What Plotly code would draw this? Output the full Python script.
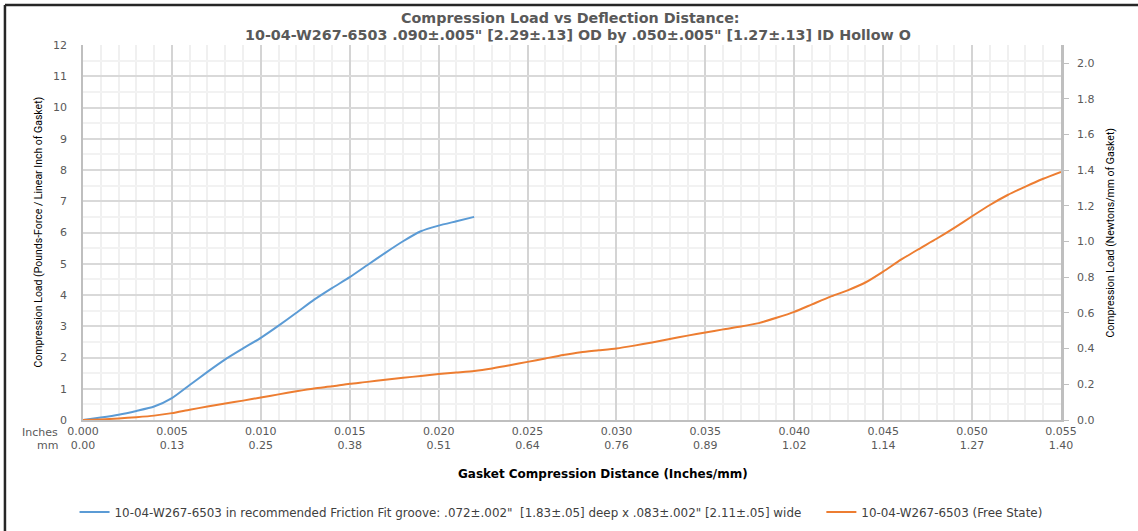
import plotly.graph_objects as go

# Deflection (inches) and compression load (lbf per linear inch of gasket)
groove_defl = [0.000, 0.001, 0.002, 0.003, 0.004, 0.005, 0.006, 0.007, 0.008, 0.009,
               0.010, 0.011, 0.012, 0.013, 0.014, 0.015, 0.016, 0.017, 0.018, 0.019,
               0.020, 0.021, 0.022]
groove_load = [0.00, 0.08, 0.17, 0.29, 0.43, 0.70, 1.12, 1.54, 1.94, 2.29,
               2.63, 3.02, 3.43, 3.85, 4.22, 4.57, 4.96, 5.35, 5.72, 6.04,
               6.22, 6.36, 6.50]

free_defl = [0.000, 0.001, 0.002, 0.003, 0.004, 0.005, 0.006, 0.007, 0.008, 0.009,
             0.010, 0.011, 0.012, 0.013, 0.014, 0.015, 0.016, 0.017, 0.018, 0.019,
             0.020, 0.021, 0.022, 0.023, 0.024, 0.025, 0.026, 0.027, 0.028, 0.029,
             0.030, 0.031, 0.032, 0.033, 0.034, 0.035, 0.036, 0.037, 0.038, 0.039,
             0.040, 0.041, 0.042, 0.043, 0.044, 0.045, 0.046, 0.047, 0.048, 0.049,
             0.050, 0.051, 0.052, 0.053, 0.054, 0.055]
free_load = [0.00, 0.02, 0.05, 0.09, 0.14, 0.22, 0.33, 0.43, 0.53, 0.62,
             0.72, 0.82, 0.92, 1.01, 1.08, 1.16, 1.22, 1.29, 1.35, 1.41,
             1.47, 1.52, 1.57, 1.65, 1.75, 1.86, 1.97, 2.08, 2.17, 2.23,
             2.29, 2.38, 2.48, 2.59, 2.70, 2.80, 2.90, 2.99, 3.10, 3.27,
             3.46, 3.70, 3.94, 4.15, 4.40, 4.75, 5.13, 5.47, 5.80, 6.15,
             6.52, 6.88, 7.20, 7.47, 7.72, 7.94]

x_tick_vals = [0.000, 0.005, 0.010, 0.015, 0.020, 0.025, 0.030, 0.035, 0.040, 0.045, 0.050, 0.055]
x_tick_in = ["0.000", "0.005", "0.010", "0.015", "0.020", "0.025", "0.030", "0.035",
             "0.040", "0.045", "0.050", "0.055"]
x_tick_mm = ["0.00", "0.13", "0.25", "0.38", "0.51", "0.64", "0.76", "0.89",
             "1.02", "1.14", "1.27", "1.40"]
y2_tick_vals = [0.0, 0.2, 0.4, 0.6, 0.8, 1.0, 1.2, 1.4, 1.6, 1.8, 2.0]

LBF_IN_TO_N_MM = 4.448222 / 25.4
Y_MAX = 12

title_line1 = "Compression Load vs Deflection Distance:"
title_line2 = '10-04-W267-6503 .090±.005" [2.29±.13] OD by .050±.005" [1.27±.13] ID Hollow O'
groove_name = ('10-04-W267-6503 in recommended Friction Fit groove: .072±.002"&nbsp; '
               '[1.83±.05] deep x .083±.002" [2.11±.05] wide')
free_name = "10-04-W267-6503 (Free State)"
LEGEND_PAD = "&nbsp;" * 4  # extra room between the two legend entries

TICK_FONT = dict(family="DejaVu Sans", size=11, color="#595959")
NARROW = "Liberation Sans Narrow, Arial Narrow, Roboto, sans-serif"
TITLE_FONT = dict(family="DejaVu Sans", size=14.3, color="#595959", weight="bold")

fig = go.Figure()
fig.add_trace(go.Scatter(x=groove_defl, y=groove_load, name=groove_name + LEGEND_PAD,
                         mode="lines",
                         line=dict(color="#5b9bd5", width=2, shape="spline", smoothing=0.6)))
fig.add_trace(go.Scatter(x=free_defl, y=free_load, name=free_name, mode="lines",
                         line=dict(color="#ed7d31", width=2, shape="spline", smoothing=0.6)))
# metric scale companion (invisible) so the secondary axis is drawn
fig.add_trace(go.Scatter(x=free_defl, y=[v * LBF_IN_TO_N_MM for v in free_load], yaxis="y2",
                         mode="lines", line=dict(width=0), opacity=0, showlegend=False,
                         hoverinfo="skip"))

fig.update_layout(
    width=1138, height=531,
    margin=dict(l=83, r=77, t=45, b=111, autoexpand=False),
    paper_bgcolor="white", plot_bgcolor="white",
    xaxis=dict(
        range=[0, 0.055], tickvals=x_tick_vals,
        ticktext=[f"{a}<br>{b}" for a, b in zip(x_tick_in, x_tick_mm)],
        tickfont=TICK_FONT, ticks="", ticklabelstandoff=0,
        showgrid=True, gridcolor="#d4d4d4", gridwidth=2,
        minor=dict(dtick=0.001, showgrid=True, gridcolor="#f0f0f0", gridwidth=2),
        showline=True, linecolor="#bfbfbf", linewidth=1.5,
        zeroline=False, fixedrange=True, automargin=False,
    ),
    yaxis=dict(
        range=[0, Y_MAX], dtick=1, tickfont=TICK_FONT, ticks="", ticklabelstandoff=12,
        showgrid=True, gridcolor="#d9d9d9", gridwidth=2,
        minor=dict(dtick=0.5, showgrid=True, gridcolor="#f2f2f2", gridwidth=2),
        showline=True, linecolor="#bfbfbf", linewidth=1.5, zeroline=False,
        fixedrange=True, automargin=False,
    ),
    yaxis2=dict(
        range=[0, Y_MAX * LBF_IN_TO_N_MM], overlaying="y", side="right",
        tickvals=y2_tick_vals, tickformat=".1f", tickfont=TICK_FONT,
        ticks="outside", ticklen=5, tickcolor="#bfbfbf", ticklabelstandoff=6,
        showgrid=False, showline=True, linecolor="#bfbfbf", linewidth=2.5,
        zeroline=False, fixedrange=True, automargin=False,
    ),
    legend=dict(orientation="h", x=0.0655, xanchor="left", xref="container",
                y=0.0358, yanchor="middle", yref="container",
                font=dict(family="DejaVu Sans", size=11.9, color="#404040"),
                itemwidth=30, tracegroupgap=0),
    showlegend=True,
)

# Chart title, two centred lines
fig.add_annotation(text=title_line1, xref="paper", yref="paper", x=0.498, y=1.072,
                   xanchor="center", yanchor="middle", showarrow=False, font=TITLE_FONT)
fig.add_annotation(text=title_line2, xref="paper", yref="paper", x=0.506, y=1.0267,
                   xanchor="center", yanchor="middle", showarrow=False, font=TITLE_FONT)

# X axis title
fig.add_annotation(text="<b>Gasket Compression Distance (Inches/mm)</b>",
                   xref="paper", yref="paper", x=0.532, y=-0.144,
                   xanchor="center", yanchor="middle", showarrow=False,
                   font=dict(family="DejaVu Sans", size=12, color="#000000"))

# Unit prefixes in front of the first x tick label rows
fig.add_annotation(text="Inches", xref="paper", yref="paper", x=-0.024, y=-0.032,
                   xanchor="right", yanchor="middle", showarrow=False, font=TICK_FONT)
fig.add_annotation(text="mm", xref="paper", yref="paper", x=-0.024, y=-0.069,
                   xanchor="right", yanchor="middle", showarrow=False, font=TICK_FONT)

# Axis titles (rotated)
fig.add_annotation(text="Compression Load (Pounds-Force / Linear Inch of Gasket)",
                   xref="paper", yref="paper", x=-0.046, y=0.5, xanchor="center",
                   yanchor="middle", textangle=-90, showarrow=False,
                   font=dict(family=NARROW, size=10.5, color="#000000"))
fig.add_annotation(text="Compression Load (Newtons/mm of Gasket)",
                   xref="paper", yref="paper", x=1.0511, y=0.5, xanchor="center",
                   yanchor="middle", textangle=-90, showarrow=False,
                   font=dict(family=NARROW, size=10.5, color="#000000"))

# Outer frame along the left and top edges
fig.add_shape(type="line", xref="paper", yref="paper", x0=-0.0798, x1=-0.0798,
              y0=1.107, y1=-0.3, line=dict(color="#262626", width=2.5))
fig.add_shape(type="line", xref="paper", yref="paper", x0=-0.0798, x1=1.08,
              y0=1.107, y1=1.107, line=dict(color="#262626", width=2.5))

fig.write_html("out.html")
